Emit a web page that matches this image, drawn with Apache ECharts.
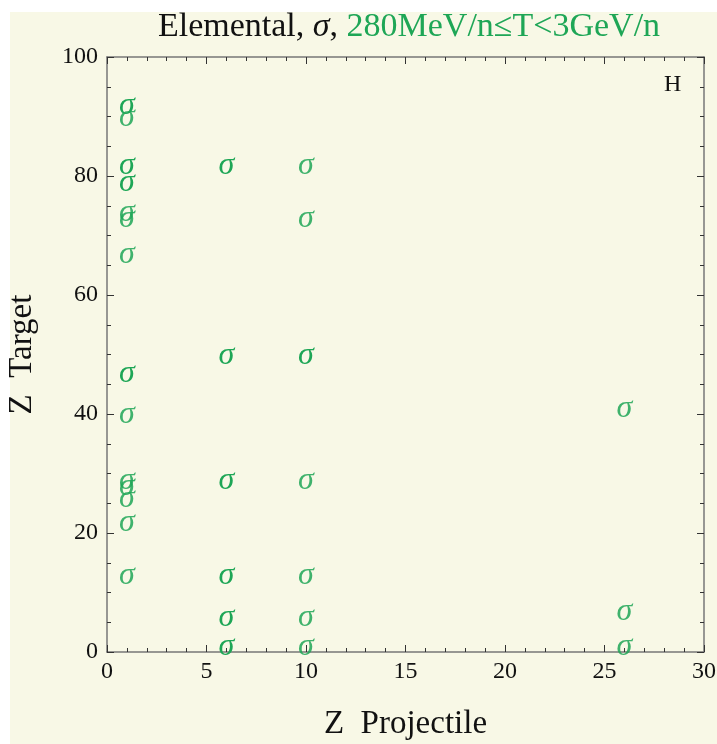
<!DOCTYPE html>
<html><head><meta charset="utf-8">
<script src="https://cdn.jsdelivr.net/npm/echarts@6/dist/echarts.min.js"></script>
<style>html,body{margin:0;padding:0;background:#fff}#c{width:717px;height:744px}</style>
</head><body><div id="c"></div>
<script>
const projZ = [1,1,1,1,1,1,1,1,1,1,1,1,1,1, 6,6,6,6,6,6, 10,10,10,10,10,10,10, 26,26,26];
const targZ = [92,90,82,79,74,73,67,47,40,29,28,26,22,13, 82,50,29,13,6,1, 82,73,50,29,13,6,1, 41,7,1];
const nMeas = [2,1,2,2,1,1,1,2,1,1,1,1,1,1, 2,2,2,2,2,2, 1,1,2,1,1,1,1, 1,1,1];
const xTicks = [0,5,10,15,20,25,30];
const yTicks = [0,20,40,60,80,100];

const green = '#1ea656';
const serif = '"Liberation Serif","DejaVu Serif",serif';
const data = projZ.map((x,i)=>[x, targZ[i], nMeas[i]]);

const chart = echarts.init(document.getElementById('c'));
function ax(extra, split){
  return Object.assign({
    axisLine:{onZero:false,lineStyle:{color:'#777',width:1.5}},
    axisTick:{inside:true,length:7,lineStyle:{color:'#333',width:1}},
    minorTick:{show:true,splitNumber:split,length:4,lineStyle:{color:'#333',width:1}},
    splitLine:{show:false}
  }, extra);
}
chart.setOption({
  animation:false,
  graphic:[
    {type:'rect',z:-10,shape:{x:10,y:12,width:707,height:732},style:{fill:'#f8f8e6'}},
    {type:'text',left:664,top:73,style:{text:'H',font:'24px '+serif,fill:'#111'}}
  ],
  title:{
    text:'{k|Elemental,}{s| σ}{k|, }{g|280MeV/n≤T<3GeV/n}',
    left:404, textAlign:'center', top:5,
    textStyle:{rich:{
      k:{fontFamily:serif,fontSize:34,fontWeight:'normal',color:'#111'},
      s:{fontFamily:serif,fontSize:34,fontWeight:'normal',color:'#111',fontStyle:'italic'},
      g:{fontFamily:serif,fontSize:34,fontWeight:'normal',color:green}
    }}
  },
  grid:{left:107,right:13,top:57,bottom:92,show:false,containLabel:false,outerBoundsMode:'none'},
  xAxis:[
    ax({type:'value',min:0,max:30,interval:5,position:'bottom',
      axisLabel:{fontFamily:serif,fontSize:24,color:'#111',margin:8,
        formatter:v=>xTicks.includes(v)?String(v):''},
      name:'Z  Projectile',nameLocation:'middle',nameGap:56,
      nameTextStyle:{fontFamily:serif,fontSize:33,color:'#111'}},5),
    ax({type:'value',min:0,max:30,interval:5,position:'top',axisLabel:{show:false}},5)
  ],
  yAxis:[
    ax({type:'value',min:0,max:100,interval:20,position:'left',
      axisLabel:{fontFamily:serif,fontSize:24,color:'#111',margin:9,
        formatter:v=>yTicks.includes(v)?String(v):''},
      name:'Z  Target',nameLocation:'middle',nameGap:68,nameRotate:90,
      nameTextStyle:{fontFamily:serif,fontSize:33,color:'#111'}},4),
    ax({type:'value',min:0,max:100,interval:20,position:'right',axisLabel:{show:false}},4)
  ],
  series:[{
    type:'custom',
    xAxisIndex:0,yAxisIndex:0,
    data:data,
    renderItem:function(params,api){
      const p = api.coord([api.value(0),api.value(1)]);
      return {type:'text',x:p[0],y:p[1]+1,style:{
        text:'σ',font:'italic 32px '+serif,fill:green,
        opacity: api.value(2)>1?1:0.85,
        align:'center',verticalAlign:'middle'}};
    }
  }]
});
</script></body></html>
